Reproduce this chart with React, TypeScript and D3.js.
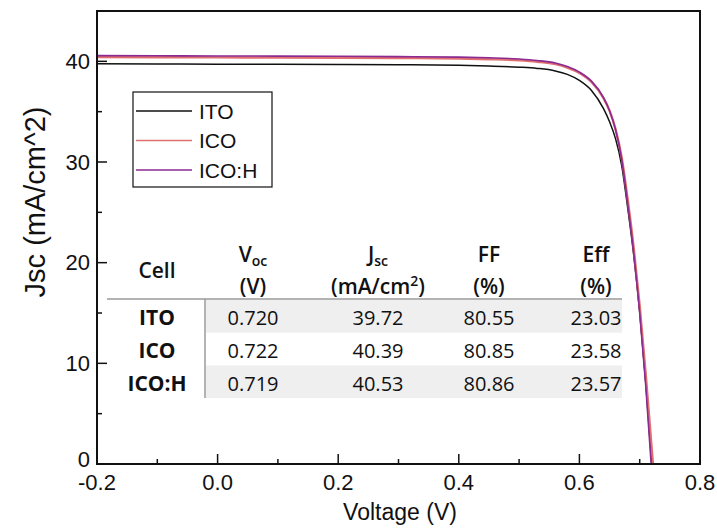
import React from "react";
import * as d3 from "d3";

// J–V sweep: shared voltage grid (V); each series ends at its own Voc (J = 0)
const voltage = [-0.2, -0.1, 0, 0.1, 0.2, 0.3, 0.4, 0.45, 0.5, 0.53, 0.56, 0.58, 0.6, 0.62, 0.64, 0.65, 0.66, 0.67, 0.68, 0.69, 0.7, 0.71];
const jITO = [39.76, 39.74, 39.72, 39.71, 39.69, 39.66, 39.6, 39.53, 39.42, 39.3, 39.05, 38.7, 38.1, 37.1, 35.3, 34.0, 32.3, 29.7, 25.5, 20.8, 15.1, 8.1];
const jICO = [40.43, 40.41, 40.39, 40.38, 40.36, 40.33, 40.28, 40.21, 40.1, 39.96, 39.72, 39.38, 38.85, 37.95, 36.35, 35.1, 33.25, 30.5, 26.3, 21.5, 15.7, 8.9];
const jICOH = [40.57, 40.55, 40.53, 40.52, 40.5, 40.47, 40.42, 40.35, 40.23, 40.08, 39.83, 39.48, 38.93, 38.03, 36.4, 35.1, 33.2, 30.3, 25.9, 21.0, 15.0, 7.8];

// Photovoltaic parameters table
const cells = ["ITO", "ICO", "ICO:H"];
const vocValues = [0.72, 0.722, 0.719];
const jscValues = [39.72, 40.39, 40.53];
const ffValues = [80.55, 80.85, 80.86];
const effValues = [23.03, 23.58, 23.57];

const seriesColors = ["#111111", "#e07070", "#8a2a92"];
const seriesWidths = [1.5, 2.4, 1.6];
const currents = [jITO, jICO, jICOH];

const xTicks = [-0.2, 0.0, 0.2, 0.4, 0.6, 0.8];
const xMinor = [-0.1, 0.1, 0.3, 0.5, 0.7];
const yTicks = [0, 10, 20, 30, 40];
const yMinor = [5, 15, 25, 35];

const W = 717;
const H = 531;
const M = { left: 97, right: 700, top: 11, bottom: 464 };

export default function App() {
  const x = d3.scaleLinear().domain([-0.2, 0.8]).range([M.left, M.right]);
  const y = d3.scaleLinear().domain([0, 45]).range([M.bottom, M.top]);

  const line = d3
    .line<[number, number]>()
    .x((d) => x(d[0]))
    .y((d) => y(d[1]))
    .curve(d3.curveMonotoneX);

  const series = currents.map((js, i) => {
    const pts: [number, number][] = voltage.map((v, k) => [v, js[k]]);
    pts.push([vocValues[i], 0]);
    return pts;
  });

  const axisFont = "'Liberation Sans', Arial, sans-serif";
  const tableFont = "'Open Sans', 'Noto Sans', sans-serif";

  // table layout
  const colX = [157, 253, 378, 489, 596];
  const rowY = [317, 350, 383];
  const bandTop = 300;
  const rowH = 32.7;
  const tableLeft = 206;
  const tableRight = 622;

  return (
    <svg
      width={W}
      height={H}
      viewBox={`0 0 ${W} ${H}`}
      style={{ position: "absolute", left: 0, top: 0, background: "#fff" }}
    >
      <rect x={0} y={0} width={W} height={H} fill="#fff" />

      {/* table bands */}
      {[0, 2].map((r) => (
        <rect
          key={r}
          x={tableLeft}
          y={bandTop + r * rowH}
          width={tableRight - tableLeft}
          height={rowH}
          fill="#efefef"
        />
      ))}
      <line x1={107} x2={tableRight} y1={299} y2={299} stroke="#9a9a9a" strokeWidth={1.5} />
      <line x1={205} x2={205} y1={299} y2={398} stroke="#9a9a9a" strokeWidth={1.5} />

      {/* table header */}
      <g fontFamily={tableFont} fontSize={21} fill="#111" textAnchor="middle" fontWeight={600}>
        <text x={colX[0]} y={278}>Cell</text>
        <text x={colX[1]} y={262}>
          V<tspan fontSize={14} dy={4}>oc</tspan>
        </text>
        <text x={colX[1]} y={294}>(V)</text>
        <text x={colX[2]} y={262}>
          J<tspan fontSize={14} dy={4}>sc</tspan>
        </text>
        <text x={colX[2]} y={294}>
          (mA/cm<tspan fontSize={14} dy={-8}>2</tspan>
          <tspan dy={8}>)</tspan>
        </text>
        <text x={colX[3]} y={262}>FF</text>
        <text x={colX[3]} y={294}>(%)</text>
        <text x={colX[4]} y={262}>Eff</text>
        <text x={colX[4]} y={294}>(%)</text>
      </g>

      {/* table rows */}
      {cells.map((c, i) => (
        <g key={c} fontFamily={tableFont} fill="#111" textAnchor="middle" dominantBaseline="central">
          <text x={colX[0]} y={rowY[i]} fontSize={21} fontWeight={700}>{c}</text>
          <text x={colX[1]} y={rowY[i]} fontSize={20}>{vocValues[i].toFixed(3)}</text>
          <text x={colX[2]} y={rowY[i]} fontSize={20}>{jscValues[i].toFixed(2)}</text>
          <text x={colX[3]} y={rowY[i]} fontSize={20}>{ffValues[i].toFixed(2)}</text>
          <text x={colX[4]} y={rowY[i]} fontSize={20}>{effValues[i].toFixed(2)}</text>
        </g>
      ))}

      {/* curves */}
      <defs>
        <clipPath id="plotClip">
          <rect x={M.left} y={M.top} width={M.right - M.left} height={M.bottom - M.top} />
        </clipPath>
      </defs>
      <g clipPath="url(#plotClip)">
        {series.map((pts, i) => (
          <path
            key={cells[i]}
            d={line(pts) || ""}
            fill="none"
            stroke={seriesColors[i]}
            strokeWidth={seriesWidths[i]}
          />
        ))}
      </g>

      {/* frame */}
      <rect
        x={M.left}
        y={M.top}
        width={M.right - M.left}
        height={M.bottom - M.top}
        fill="none"
        stroke="#111"
        strokeWidth={2}
      />

      {/* x ticks */}
      {xTicks.map((t) => (
        <g key={`xt${t}`}>
          <line x1={x(t)} x2={x(t)} y1={M.bottom} y2={M.bottom - 10} stroke="#111" strokeWidth={1.5} />
          <text
            x={x(t)}
            y={490}
            textAnchor="middle"
            fontFamily={axisFont}
            fontSize={22}
            fill="#111"
          >
            {t.toFixed(1)}
          </text>
        </g>
      ))}
      {xMinor.map((t) => (
        <line key={`xm${t}`} x1={x(t)} x2={x(t)} y1={M.bottom} y2={M.bottom - 5} stroke="#111" strokeWidth={1.5} />
      ))}

      {/* y ticks */}
      {yTicks.map((t) => (
        <g key={`yt${t}`}>
          <line x1={M.left} x2={M.left + 10} y1={y(t)} y2={y(t)} stroke="#111" strokeWidth={1.5} />
          <text
            x={90}
            y={y(t) - (t === 0 ? 5 : 0)}
            textAnchor="end"
            dominantBaseline="central"
            fontFamily={axisFont}
            fontSize={22}
            fill="#111"
          >
            {t}
          </text>
        </g>
      ))}
      {yMinor.map((t) => (
        <line key={`ym${t}`} x1={M.left} x2={M.left + 5} y1={y(t)} y2={y(t)} stroke="#111" strokeWidth={1.5} />
      ))}

      {/* axis titles */}
      <text x={400} y={520} textAnchor="middle" fontFamily={axisFont} fontSize={23} fill="#111">
        Voltage (V)
      </text>
      <text
        transform={`translate(45, 202) rotate(-90)`}
        textAnchor="middle"
        fontFamily={axisFont}
        fontSize={29}
        fill="#111"
      >
        Jsc (mA/cm^2)
      </text>

      {/* legend */}
      <rect x={133} y={92} width={139} height={95} fill="#fff" stroke="#111" strokeWidth={1.2} />
      {cells.map((c, i) => (
        <g key={`lg${c}`}>
          <line x1={136} x2={192} y1={111 + i * 29.5} y2={111 + i * 29.5} stroke={seriesColors[i]} strokeWidth={1.6} />
          <text
            x={199}
            y={111 + i * 29.5}
            dominantBaseline="central"
            fontFamily={axisFont}
            fontSize={21}
            fill="#111"
          >
            {c}
          </text>
        </g>
      ))}
    </svg>
  );
}
